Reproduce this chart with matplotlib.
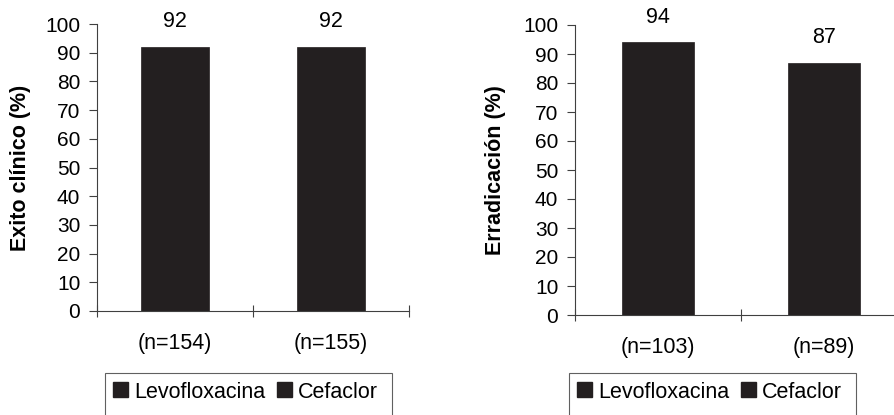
import matplotlib
matplotlib.use("Agg")
import matplotlib.pyplot as plt
from matplotlib.patches import Patch, Rectangle

plt.rcParams['font.family'] = ['Liberation Sans', 'DejaVu Sans']

# clinical success panel
exito_groups = ["(n=154)", "(n=155)"]
exito_values = [92, 92]

# eradication panel
errad_groups = ["(n=103)", "(n=89)"]
errad_values = [94, 87]

series_names = ["Levofloxacina", "Cefaclor"]
bar_color = "#231f20"
axis_color = "#404040"
FS = 15.5
TICK_FS = 15


def draw_panel(ax, groups, values, ylabel, width, label_x):
    xs = [0.5, 1.5]
    for x, v in zip(xs, values):
        ax.bar(x, v, width=width, color=bar_color, edgecolor=bar_color, linewidth=0.5)
        ax.annotate(str(v), (x, v), xytext=(0, 18), textcoords="offset points",
                    ha="center", va="center", fontsize=FS)
    ax.set_xlim(0, 2)
    ax.set_ylim(0, 100)
    ax.set_yticks(range(0, 101, 10))
    ax.tick_params(axis="y", direction="out", length=6, width=0.8, color=axis_color,
                   labelsize=TICK_FS, pad=6)
    # category boundaries get small crossing ticks, names sit between them
    ax.set_xticks([0, 1, 2])
    ax.set_xticklabels([])
    ax.tick_params(axis="x", which="major", direction="inout", length=9, width=0.8,
                   color=axis_color)
    ax.set_xticks(xs, minor=True)
    ax.set_xticklabels(groups, minor=True)
    ax.tick_params(axis="x", which="minor", length=0, labelsize=FS, pad=16)
    for side in ("top", "right"):
        ax.spines[side].set_visible(False)
    for side in ("left", "bottom"):
        ax.spines[side].set_color(axis_color)
        ax.spines[side].set_linewidth(0.8)
    ax.set_ylabel(ylabel, fontsize=FS, fontweight="bold", va="center")
    ax.yaxis.set_label_coords(label_x, 0.5)


def draw_legend(fig, x0, x1, y_top):
    W, H = fig.bbox.width, fig.bbox.height
    fig.patches.append(Rectangle((x0 / W, -0.1), (x1 - x0) / W, 1 - y_top / H + 0.1,
                                 transform=fig.transFigure, facecolor="none",
                                 edgecolor="#606060", linewidth=0.8))
    handles = [Patch(facecolor=bar_color, edgecolor=bar_color) for _ in series_names]
    fig.legend(handles, series_names, loc="center left",
               bbox_to_anchor=((x0 + 6) / W, 1 - 392 / H), frameon=False, ncol=2,
               fontsize=FS, handlelength=0.7, handleheight=0.7, handletextpad=0.3,
               columnspacing=0.5, borderaxespad=0, borderpad=0.1)


fig = plt.figure(figsize=(8.95, 4.15), dpi=100)
W, H = 895, 415

ax1 = fig.add_axes([97 / W, (H - 311) / H, 312 / W, 287 / H])
draw_panel(ax1, exito_groups, exito_values, "Exito clínico (%)", 0.44, -0.244)

ax2 = fig.add_axes([575 / W, (H - 315) / H, 332 / W, 290 / H])
draw_panel(ax2, errad_groups, errad_values, "Erradicación (%)", 0.43, -0.238)

draw_legend(fig, 105, 392, 373)
draw_legend(fig, 569, 856, 373)

fig.savefig("out.png", dpi=100)
